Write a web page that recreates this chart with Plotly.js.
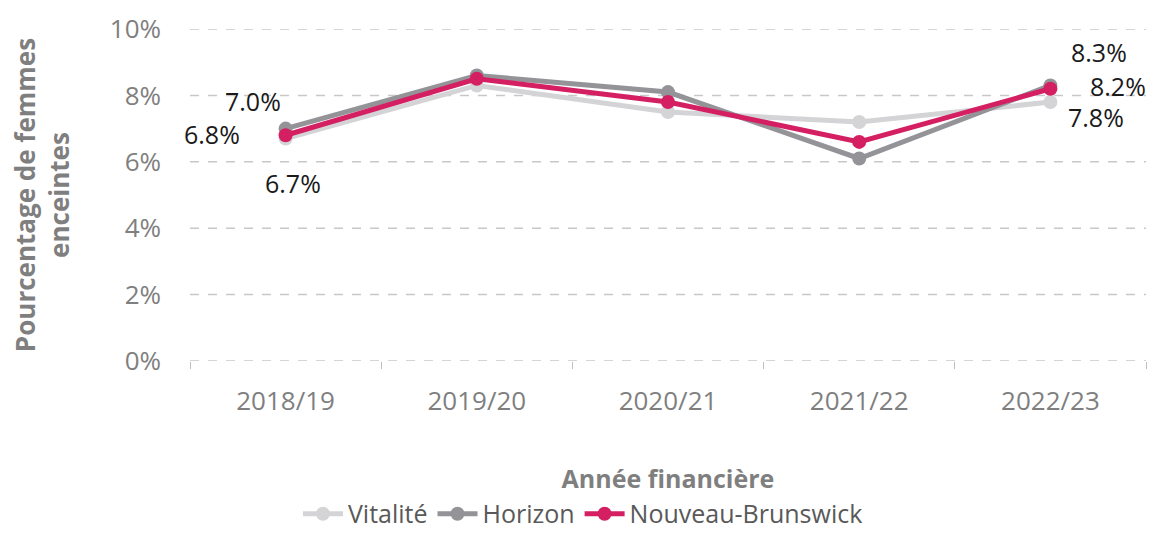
<!DOCTYPE html>
<html><head><meta charset="utf-8">
<script src="https://cdn.plot.ly/plotly-3.0.1.min.js"></script>
<style>html,body{margin:0;padding:0;background:#fff}#chart{width:1149px;height:537px}</style>
</head><body><div id="chart"></div>
<script>
const years = ["2018/19","2019/20","2020/21","2021/22","2022/23"];
const seriesNames = ["Vitalité","Horizon","Nouveau-Brunswick"];
const vitalite = [6.7, 8.3, 7.5, 7.2, 7.8];
const horizon = [7.0, 8.6, 8.1, 6.1, 8.3];
const nb = [6.8, 8.5, 7.8, 6.6, 8.2];
const yTicks = [0, 2, 4, 6, 8, 10];

const colors = ["#d4d4d6", "#939398", "#d41f63"];
const allSeries = [vitalite, horizon, nb];

const traces = allSeries.map((vals, i) => ({
  type: "scatter", mode: "lines+markers", name: seriesNames[i],
  x: years, y: vals,
  line: {color: colors[i], width: 5},
  marker: {color: colors[i], size: 14},
  hoverinfo: "skip"
}));

// label offsets (pixels) for first and last points of each series
const firstOff = [[7, 44], [-33, -28], [-74, -1]];
const lastOff = [[46, 15], [49, -33], [68, -3]];
const annotations = [];
allSeries.forEach((vals, i) => {
  [[0, firstOff[i]], [vals.length - 1, lastOff[i]]].forEach(([idx, off]) => {
    annotations.push({
      x: years[idx], y: vals[idx], xref: "x", yref: "y",
      text: vals[idx].toFixed(1) + "%", showarrow: true, arrowcolor: "rgba(0,0,0,0)",
      ax: off[0], ay: off[1], axref: "pixel", ayref: "pixel",
      font: {family: "Open Sans", size: 25, color: "#1a1a1a"}
    });
  });
});

// dashed gridlines drawn at every y tick (including the plot edges)
const shapes = yTicks.map(v => ({
  type: "line", xref: "paper", yref: "y", x0: 0, x1: 1, y0: v, y1: v,
  line: {color: "#c8c8c8", width: 1.5, dash: "dash"}, layer: "below"
}));

const layout = {
  width: 1149, height: 537,
  margin: {l: 190, r: 3, t: 29, b: 176, autoexpand: false},
  paper_bgcolor: "#fff", plot_bgcolor: "#fff",
  showlegend: true,
  legend: {orientation: "h", x: 0.411, xanchor: "center", y: -0.53, yanchor: "bottom",
    font: {family: "Open Sans", size: 25, color: "#595959"}, itemwidth: 40, tracegroupgap: 0},
  xaxis: {
    type: "category", tickson: "boundaries", ticks: "outside", ticklen: 7, tickcolor: "#bfbfbf",
    showgrid: false, zeroline: false, showline: false,
    ticklabelstandoff: 22,
    tickfont: {family: "Open Sans", size: 26, color: "#7f7f7f"},
    title: {text: "<b>Année financière</b>", standoff: 53,
      font: {family: "Open Sans", size: 25, color: "#7f7f7f"}},
    range: [-0.5, 4.5]
  },
  yaxis: {
    range: [0, 10], tickvals: yTicks, ticktext: yTicks.map(v => v + "%"),
    showgrid: false, zeroline: false, showline: false, ticks: "",
    ticklabelstandoff: 28,
    tickfont: {family: "Open Sans", size: 26, color: "#7f7f7f"},
    title: {text: "<b>Pourcentage de femmes<br>enceintes</b>", standoff: 32,
      font: {family: "Open Sans", size: 26, color: "#7f7f7f"}}
  },
  shapes: shapes,
  annotations: annotations
};

Plotly.newPlot("chart", traces, layout, {displayModeBar: false, staticPlot: true});
</script></body></html>
